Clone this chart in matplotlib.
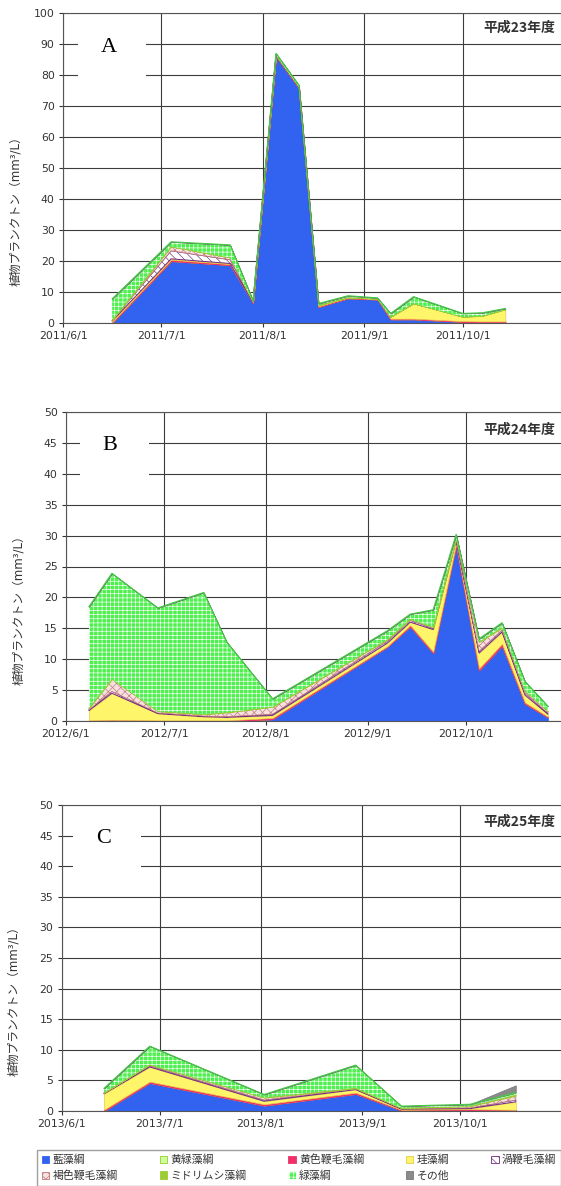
import matplotlib
matplotlib.use('Agg')
import matplotlib.pyplot as plt
import matplotlib.dates as mdates
import pandas as pd
from matplotlib.patches import Patch, Rectangle
from matplotlib.ticker import FuncFormatter

plt.rcParams['font.family'] = ['DejaVu Sans', 'Noto Sans CJK JP']
plt.rcParams['hatch.linewidth'] = 0.45

groups = ['藍藻綱', '黄緑藻綱', '黄色鞭毛藻綱', '珪藻綱', '渦鞭毛藻綱',
          '褐色鞭毛藻綱', 'ミドリムシ藻綱', '緑藻綱', 'その他']
ylabel_text = '植物プランクトン（mm³/L）'
years = ['平成23年度', '平成24年度', '平成25年度']
letters = ['A', 'B', 'C']

# ---- 2011 (A) ----
a_dates = ['2011-06-16', '2011-07-04', '2011-07-22', '2011-07-29', '2011-08-05',
           '2011-08-12', '2011-08-18', '2011-08-27', '2011-09-05', '2011-09-09',
           '2011-09-16', '2011-10-01', '2011-10-07', '2011-10-14']
a_aiso =     [0.0, 20.0, 18.7, 6.5, 86.0, 75.8, 5.2, 8.0, 7.6, 1.2, 1.2, 0.4, 0.3, 0.3]
a_ouryoku =  [0, 0, 0, 0, 0, 0, 0, 0, 0, 0, 0, 0, 0, 0]
a_oushoku =  [0.3, 0.4, 0.3, 0.1, 0.3, 0.3, 0.2, 0.2, 0.1, 0.2, 0.2, 0.2, 0.2, 0.2]
a_keiso =    [0.3, 0.3, 0.2, 0.1, 0.1, 0.1, 0.3, 0.1, 0.1, 0.6, 4.9, 1.4, 1.8, 3.9]
a_uzu =      [0.2, 2.6, 1.2, 0.1, 0, 0, 0, 0, 0, 0, 0, 0, 0, 0]
a_kasshoku = [0.2, 1.4, 0.7, 0.1, 0, 0, 0, 0, 0, 0, 0, 0, 0, 0]
a_midori =   [0, 0, 0, 0, 0, 0, 0, 0, 0, 0, 0, 0, 0, 0]
a_ryoku =    [6.8, 1.5, 4.1, 0.3, 0.6, 0.5, 0.6, 0.5, 0.3, 1.1, 2.2, 1.1, 1.0, 0.3]
a_other =    [0, 0, 0, 0, 0, 0, 0, 0, 0, 0, 0, 0, 0, 0]

# ---- 2012 (B) ----
b_dates = ['2012-06-08', '2012-06-15', '2012-06-29', '2012-07-13', '2012-07-20',
           '2012-08-03', '2012-09-07', '2012-09-14', '2012-09-21', '2012-09-28',
           '2012-10-05', '2012-10-12', '2012-10-19', '2012-10-26']
b_aiso =     [0, 0, 0, 0, 0, 0.3, 12.0, 15.3, 11.0, 28.5, 8.2, 12.2, 2.8, 0.6]
b_ouryoku =  [0, 0, 0, 0, 0, 0, 0, 0, 0, 0, 0, 0, 0, 0]
b_oushoku =  [0.1, 0.2, 0.1, 0.1, 0.1, 0.2, 0.1, 0.2, 0.2, 0.2, 0.3, 0.3, 0.2, 0.1]
b_keiso =    [1.6, 4.3, 1.1, 0.6, 0.5, 0.4, 0.5, 0.5, 3.6, 0.5, 2.5, 1.9, 1.2, 0.4]
b_uzu =      [0.1, 0.3, 0.1, 0.1, 0.1, 0.2, 0.3, 0.3, 0.2, 0.2, 0.3, 0.3, 0.3, 0.2]
b_kasshoku = [0.3, 2.0, 0.3, 0.3, 0.7, 1.2, 0.3, 0.2, 0.2, 0.2, 1.5, 0.4, 0.4, 0.3]
b_midori =   [0, 0, 0, 0, 0, 0, 0, 0, 0, 0, 0, 0, 0, 0]
b_ryoku =    [16.4, 17.1, 16.7, 19.7, 11.4, 1.3, 1.4, 0.8, 2.8, 0.6, 0.5, 0.8, 1.5, 0.8]
b_other =    [0, 0, 0, 0, 0, 0, 0, 0, 0, 0, 0, 0, 0, 0]

# ---- 2013 (C) ----
c_dates = ['2013-06-14', '2013-06-28', '2013-08-02', '2013-08-30', '2013-09-13',
           '2013-10-04', '2013-10-18']
c_aiso =     [0.0, 4.6, 0.9, 2.8, 0.1, 0.1, 0.1]
c_ouryoku =  [0, 0, 0, 0, 0, 0, 0]
c_oushoku =  [0.2, 0.2, 0.2, 0.2, 0.1, 0.2, 0.1]
c_keiso =    [2.6, 2.4, 0.5, 0.5, 0.1, 0.1, 1.3]
c_uzu =      [0.1, 0.2, 0.2, 0.1, 0.1, 0.1, 0.3]
c_kasshoku = [0.1, 0.2, 0.4, 0.1, 0.1, 0.3, 0.7]
c_midori =   [0, 0, 0, 0.1, 0, 0, 0.2]
c_ryoku =    [0.7, 3.0, 0.5, 3.7, 0.3, 0.3, 0.3]
c_other =    [0, 0, 0, 0, 0, 0, 1.2]

# styles per group: facecolor, edgecolor, hatch, linewidth
styles = [
    ('#3262F0', '#3262F0', None, 0.5),
    ('#CCFF99', '#99CC33', None, 0.5),
    ('#F0306A', '#F0306A', None, 0.8),
    ('#FFF56A', '#E8C84A', None, 0.5),
    ('white', '#6E2A7E', '\\\\\\\\', 0.7),
    ('#F6E0E0', '#C07878', 'xxxx', 0.5),
    ('#9ACD32', '#9ACD32', None, 0.5),
    ('#4EF04E', 'white', '++++', 0.0),
    ('#8A8A8A', '#777777', None, 0.5),
]

W, H = 561, 1186
fig = plt.figure(figsize=(W / 100, H / 100), dpi=100)


def px_axes(left, right, top, bottom):
    return fig.add_axes([left / W, 1 - bottom / H, (right - left) / W, (bottom - top) / H])


def date_fmt(v, pos):
    d = mdates.num2date(v)
    return f'{d.year}/{d.month}/{d.day}'


def draw_panel(ax, dates, layers, ymax, ystep, x0, x1, year_text, letter,
               box, letter_xy, year_y):
    x = mdates.date2num(pd.to_datetime(dates))
    polys = ax.stackplot(x, *layers, zorder=2)
    for p, (fc, ec, hatch, lw) in zip(polys, styles):
        p.set_facecolor(fc)
        p.set_edgecolor(ec)
        p.set_linewidth(lw)
        if hatch:
            p.set_hatch(hatch)
    # green layer outline
    tops = [sum(v) for v in zip(*layers[:8])]
    ax.plot(x, tops, color='#44CC44', lw=0.8, zorder=3)

    ax.set_xlim(mdates.date2num(pd.Timestamp(x0)), mdates.date2num(pd.Timestamp(x1)))
    ax.set_ylim(0, ymax)
    ax.set_yticks(range(0, ymax + 1, ystep))
    ax.xaxis.set_major_locator(mdates.MonthLocator(bymonth=[6, 7, 8, 9, 10]))
    ax.xaxis.set_major_formatter(FuncFormatter(date_fmt))
    ax.set_axisbelow(True)
    ax.grid(True, color='#3c3c3c', linewidth=0.8)
    ax.tick_params(labelsize=7.8, colors='#333333', length=3, pad=3)
    for s in ['left', 'bottom', 'top']:
        ax.spines[s].set_color('#555555')
    ax.spines['right'].set_visible(False)

    ax.set_ylabel(ylabel_text, fontsize=8.5, color='#333333')
    ax.yaxis.set_label_coords(-0.082, 0.37)

    ax.add_patch(Rectangle((box[0], box[1]), box[2], box[3], transform=ax.transAxes,
                           facecolor='white', edgecolor='none', zorder=1))
    ax.text(letter_xy[0], letter_xy[1], letter, transform=ax.transAxes,
            fontsize=16, family='Liberation Serif', ha='center', va='center', zorder=4)
    ax.text(0.988, year_y, year_text, transform=ax.transAxes, fontsize=10,
            fontweight='bold', color='#333333', ha='right', va='center',
            family=['Noto Sans CJK JP', 'DejaVu Sans'], zorder=4)


ax_a = px_axes(63, 561, 13, 323)
draw_panel(ax_a, a_dates,
           [a_aiso, a_ouryoku, a_oushoku, a_keiso, a_uzu, a_kasshoku, a_midori, a_ryoku, a_other],
           100, 10, '2011-06-01', '2011-10-31', years[0], letters[0],
           (0.03, 0.784, 0.137, 0.16), (0.093, 0.89), 0.952)

ax_b = px_axes(66, 561, 412, 721)
draw_panel(ax_b, b_dates,
           [b_aiso, b_ouryoku, b_oushoku, b_keiso, b_uzu, b_kasshoku, b_midori, b_ryoku, b_other],
           50, 5, '2012-06-01', '2012-10-30', years[1], letters[1],
           (0.028, 0.764, 0.139, 0.194), (0.089, 0.893), 0.942)

ax_c = px_axes(61.5, 561, 805, 1111)
draw_panel(ax_c, c_dates,
           [c_aiso, c_ouryoku, c_oushoku, c_keiso, c_uzu, c_kasshoku, c_midori, c_ryoku, c_other],
           50, 5, '2013-06-01', '2013-10-31 20:00', years[2], letters[2],
           (0.023, 0.761, 0.136, 0.197), (0.085, 0.889), 0.944)

# legend, filled column by column so rows read like the original
handles = [Patch(facecolor=fc, edgecolor=ec, hatch=h, linewidth=0.6) for fc, ec, h, lw in styles]
order = [0, 5, 1, 6, 2, 7, 3, 8, 4]
fig.legend([handles[i] for i in order], [groups[i] for i in order],
           loc='lower left', bbox_to_anchor=(37 / W, 0, 1 - 37 / W, 37 / H),
           mode='expand', ncol=5, borderaxespad=0,
           handlelength=0.7, handleheight=0.7, handletextpad=0.3,
           labelspacing=0.5, borderpad=0.45, fancybox=False,
           edgecolor='#888888', labelcolor='#333333',
           prop={'family': ['Noto Sans CJK JP', 'DejaVu Sans'], 'size': 7.8})

fig.savefig('out.png', dpi=100, facecolor='white')
